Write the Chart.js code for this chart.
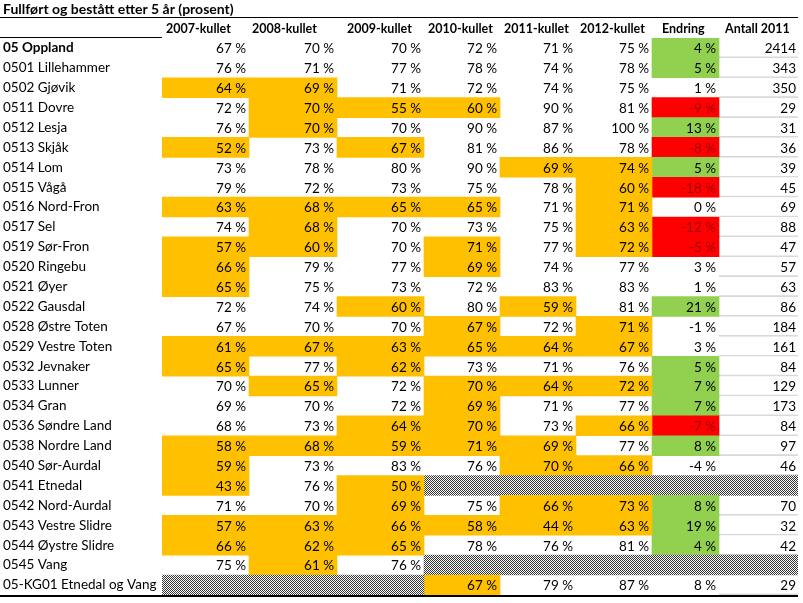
<!DOCTYPE html>
<html>
<head>
<meta charset="utf-8">
<title>Fullført og bestått etter 5 år</title>
<script src="https://cdn.jsdelivr.net/npm/chart.js@4"></script>
<style>
  body { margin: 0; background: #fff; }
  #wrap { width: 803px; height: 603px; }
</style>
</head>
<body>
<div id="wrap"><canvas id="myChart"></canvas></div>
<script>
'use strict';

const title = 'Fullført og bestått etter 5 år (prosent)';
const columns = ['2007-kullet', '2008-kullet', '2009-kullet', '2010-kullet', '2011-kullet', '2012-kullet', 'Endring', 'Antall 2011'];

const rows = [
  '05 Oppland', '0501 Lillehammer', '0502 Gjøvik', '0511 Dovre', '0512 Lesja', '0513 Skjåk',
  '0514 Lom', '0515 Vågå', '0516 Nord-Fron', '0517 Sel', '0519 Sør-Fron', '0520 Ringebu',
  '0521 Øyer', '0522 Gausdal', '0528 Østre Toten', '0529 Vestre Toten', '0532 Jevnaker',
  '0533 Lunner', '0534 Gran', '0536 Søndre Land', '0538 Nordre Land', '0540 Sør-Aurdal',
  '0541 Etnedal', '0542 Nord-Aurdal', '0543 Vestre Slidre', '0544 Øystre Slidre', '0545 Vang',
  '05-KG01 Etnedal og Vang'
];

const kull2007 = [67, 76, 64, 72, 76, 52, 73, 79, 63, 74, 57, 66, 65, 72, 67, 61, 65, 70, 69, 68, 58, 59, 43, 71, 57, 66, 75, null];
const kull2008 = [70, 71, 69, 70, 70, 73, 78, 72, 68, 68, 60, 79, 75, 74, 70, 67, 77, 65, 70, 73, 68, 73, 76, 70, 63, 62, 61, null];
const kull2009 = [70, 77, 71, 55, 70, 67, 80, 73, 65, 70, 70, 77, 73, 60, 70, 63, 62, 72, 72, 64, 59, 83, 50, 69, 66, 65, 76, null];
const kull2010 = [72, 78, 72, 60, 90, 81, 90, 75, 65, 73, 71, 69, 72, 80, 67, 65, 73, 70, 69, 70, 71, 76, null, 75, 58, 78, null, 67];
const kull2011 = [71, 74, 74, 90, 87, 86, 69, 78, 71, 75, 77, 74, 83, 59, 72, 64, 71, 64, 71, 73, 69, 70, null, 66, 44, 76, null, 79];
const kull2012 = [75, 78, 75, 81, 100, 78, 74, 60, 71, 63, 72, 77, 83, 81, 71, 67, 76, 72, 77, 66, 77, 66, null, 73, 63, 81, null, 87];
const endring = [4, 5, 1, -9, 13, -8, 5, -18, 0, -12, -5, 3, 1, 21, -1, 3, 5, 7, 7, -7, 8, -4, null, 8, 19, 4, null, 8];
const antall2011 = [2414, 343, 350, 29, 31, 36, 39, 45, 69, 88, 47, 57, 63, 86, 184, 161, 84, 129, 173, 84, 97, 46, null, 70, 32, 42, null, 29];

// one letter per column: o = oransje, g = grønn, r = rød, x = mangler (skravert), . = ingen
const marks = [
  '......g.', '......g.', 'oo......', '.ooo..r.', '.o....g.', 'o.o...r.',
  '....oog.', '.....or.', 'oooo.o..', '.o...or.', 'oo.o.or.', 'o..o....',
  'o.......', '..o.o.g.', '...o.o..', 'oooooo..', 'o.o...g.', '.o.ooog.',
  '...o..g.', '..oo.or.', 'ooooo.g.', 'o...oo..', 'o.oxxxxx', '..o.oog.',
  'oooooog.', 'ooo...g.', '.o.xxxxx', 'xxxo....'
];

const columnValues = [kull2007, kull2008, kull2009, kull2010, kull2011, kull2012, endring, antall2011];

// layout: column widths in px, header text offset in px
const colWidths = [87, 88, 87, 76, 76, 76, 67, 79];
const headPad = [4, 3, 10, 4, 4, 4, 10, 6];
const edges = [0];
colWidths.forEach(w => edges.push(edges[edges.length - 1] + w));

// fine checker pattern for the missing cells
function makeHatch() {
  const p = document.createElement('canvas');
  p.width = 2;
  p.height = 2;
  const pc = p.getContext('2d');
  pc.fillStyle = '#ffffff';
  pc.fillRect(0, 0, 2, 2);
  pc.fillStyle = '#333333';
  pc.fillRect(0, 0, 1, 1);
  pc.fillRect(1, 1, 1, 1);
  return pc.createPattern(p, 'repeat');
}
const hatch = makeHatch();

const fills = { o: '#ffc000', g: '#92d050', r: '#ff0000', x: hatch, '.': 'rgba(0,0,0,0)' };

Chart.defaults.font.family = 'Lato, "Open Sans", sans-serif';
Chart.defaults.font.size = 13.5;
Chart.defaults.color = '#000';

const datasets = columnValues.map((vals, c) => ({
  label: columns[c],
  values: vals,
  data: rows.map(() => [edges[c], edges[c + 1]]),
  backgroundColor: (ctx) => fills[marks[ctx.dataIndex][c]],
  borderColor: '#d9d9d9',
  borderWidth: (ctx) => (c === 7 && marks[ctx.dataIndex][c] !== 'x') ? { top: 0, left: 0, right: 0, bottom: 1 } : 0,
  borderSkipped: false,
  grouped: false,
  barPercentage: 1,
  categoryPercentage: 1
}));

const cellText = {
  id: 'cellText',
  afterDatasetsDraw(chart) {
    const ctx = chart.ctx;
    ctx.save();
    ctx.font = '13.5px ' + Chart.defaults.font.family;
    ctx.textAlign = 'right';
    ctx.textBaseline = 'middle';
    chart.data.datasets.forEach((ds, c) => {
      const meta = chart.getDatasetMeta(c);
      meta.data.forEach((bar, r) => {
        const v = ds.values[r];
        if (v === null) return;
        ctx.fillStyle = marks[r][c] === 'r' ? '#9c0006' : '#000';
        const txt = c < 7 ? v + ' %' : String(v);
        ctx.fillText(txt, bar.x - (c === 7 ? 2 : 3), bar.y + 1);
      });
    });
    ctx.restore();
  }
};

const rules = {
  id: 'rules',
  afterDraw(chart) {
    const ctx = chart.ctx;
    const a = chart.chartArea;
    ctx.save();
    ctx.strokeStyle = '#000';
    ctx.lineWidth = 1;
    ctx.beginPath();
    ctx.moveTo(0, a.top - 20.5);
    ctx.lineTo(a.right, a.top - 20.5);
    ctx.moveTo(0, a.top - 0.5);
    ctx.lineTo(a.left, a.top - 0.5);
    ctx.stroke();
    ctx.lineWidth = 2;
    ctx.beginPath();
    ctx.moveTo(0, a.bottom + 1);
    ctx.lineTo(a.right, a.bottom + 1);
    ctx.stroke();
    ctx.restore();
  }
};

const chartEl = document.getElementById('myChart');

let tableChart = new Chart(chartEl, {
  type: 'bar',
  data: {
    labels: rows,
    datasets: datasets
  },
  options: {
    indexAxis: 'y',
    responsive: true,
    maintainAspectRatio: false,
    animation: false,
    layout: {
      padding: { left: 3, right: 5, top: 0, bottom: 5 }
    },
    scales: {
      x: {
        type: 'linear',
        display: false,
        min: 0,
        max: edges[edges.length - 1]
      },
      xHead: {
        type: 'linear',
        position: 'top',
        min: 0,
        max: edges[edges.length - 1],
        grid: { display: false, drawTicks: false },
        border: { display: false },
        afterBuildTicks: (s) => {
          s.ticks = columns.map((name, i) => ({ value: edges[i] + headPad[i] }));
        },
        afterFit: (s) => { s.height = 20; },
        ticks: {
          autoSkip: false,
          maxRotation: 0,
          align: 'start',
          padding: 2,
          font: { weight: 'bold', size: 12.5 },
          callback: (value, index) => columns[index]
        }
      },
      y: {
        type: 'category',
        grid: { display: false },
        border: { display: false },
        afterFit: (s) => { s.width = 159; },
        ticks: {
          crossAlign: 'far',
          padding: 0,
          autoSkip: false,
          font: (c) => ({ size: 13.5, weight: c.index === 0 ? 'bold' : 'normal' })
        }
      }
    },
    plugins: {
      legend: { display: false },
      tooltip: { enabled: false },
      title: {
        display: true,
        text: title,
        align: 'start',
        color: '#000',
        font: { size: 14, weight: 'bold', lineHeight: 1 },
        padding: { top: 2, bottom: 2 }
      }
    }
  },
  plugins: [cellText, rules]
});
</script>
</body>
</html>
